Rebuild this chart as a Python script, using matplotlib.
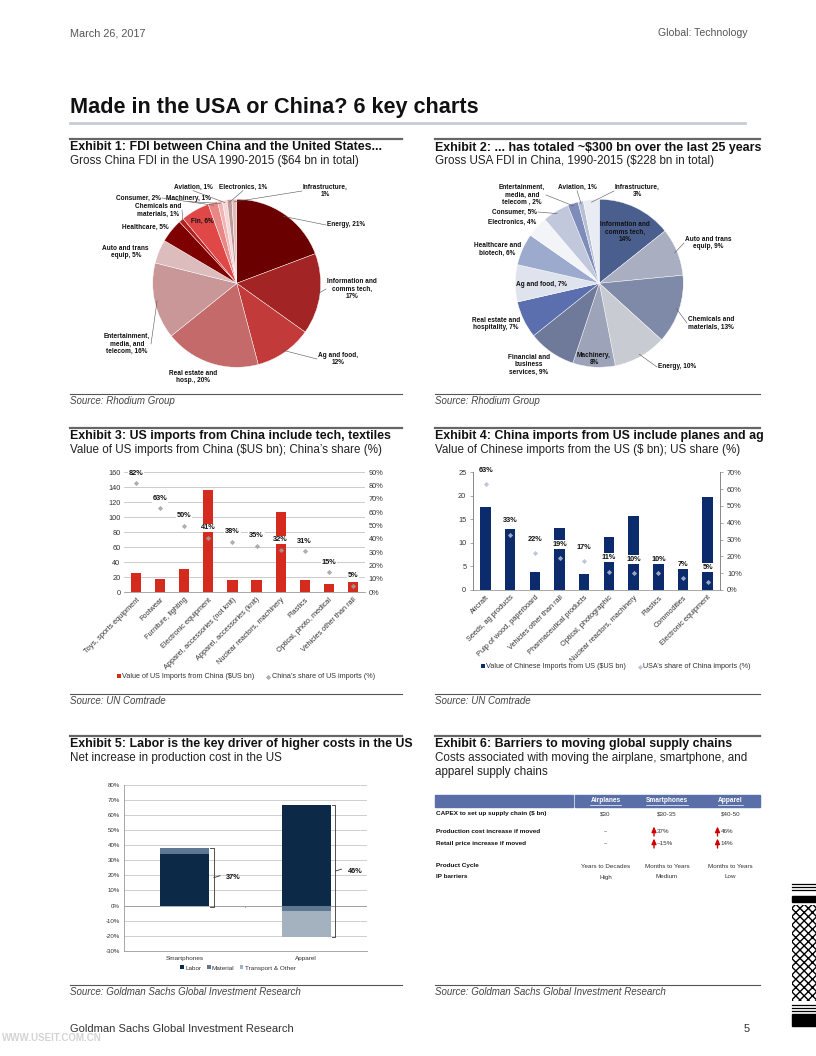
import numpy as np
import matplotlib
matplotlib.use('Agg')
import matplotlib.pyplot as plt
from matplotlib import font_manager
from matplotlib.patches import Rectangle
from matplotlib.ticker import FuncFormatter

W, H = 816, 1056

installed = {f.name for f in font_manager.fontManager.ttflist}
NARROW = 'Liberation Sans Narrow' if 'Liberation Sans Narrow' in installed else 'Liberation Sans'
plt.rcParams['font.family'] = ['Liberation Sans', 'DejaVu Sans']
plt.rcParams['text.parse_math'] = False

# ---------------- data ----------------
# Exhibit 1: Gross China FDI in the USA, clockwise from 12 o'clock
ex1_names = ['Energy, ', 'Information and\ncomms tech,\n', 'Ag and food,\n', 'Real estate and\nhosp., ',
             'Entertainment,\nmedia, and\ntelecom, ', 'Auto and trans\nequip, ', 'Healthcare, ',
             'Chemicals and\nmaterials, ', 'Fin, ', 'Consumer, ', 'Machinery, ', 'Aviation, ',
             'Electronics, ', 'Infrastructure,\n']
ex1_vals = [21, 17, 12, 20, 16, 5, 5, 1, 6, 2, 1, 1, 1, 1]

# Exhibit 2: Gross USA FDI in China, clockwise from 12 o'clock
ex2_names = ['Information and\ncomms tech,\n', 'Auto and trans\nequip, ', 'Chemicals and\nmaterials, ',
             'Energy, ', 'Machinery,\n', 'Financial and\nbusiness\nservices, ', 'Real estate and\nhospitality, ',
             'Ag and food, ', 'Healthcare and\nbiotech, ', 'Electronics, ', 'Consumer, ',
             'Entertainment,\nmedia, and\ntelecom , ', 'Aviation, ', 'Infrastructure,\n']
ex2_vals = [14, 9, 13, 10, 8, 9, 7, 7, 6, 4, 5, 2, 1, 3]

# Exhibit 3: US imports from China
ex3_cats = ['Toys, sports equipment', 'Footwear', 'Furniture, lighting', 'Electronic equipment',
            'Apparel, accessories (not knit)', 'Apparel, accessories (knit)', 'Nuclear reactors, machinery',
            'Plastics', 'Optical, photo, medical', 'Vehicles other than rail']
ex3_vals = [26, 18, 31, 136, 16, 16.5, 107, 16, 11.5, 13.5]
ex3_share = [82, 63, 50, 41, 38, 35, 32, 31, 15, 5]

# Exhibit 4: China imports from US
ex4_cats = ['Aircraft', 'Seeds, ag products', 'Pulp of wood, paperboard', 'Vehicles other than rail',
            'Pharmaceutical products', 'Optical, photographic', 'Nuclear reactors, machinery',
            'Plastics', 'Commodities', 'Electronic equipment']
ex4_vals = [17.6, 13.0, 3.9, 13.2, 3.3, 11.3, 15.8, 6.3, 5.8, 19.8]
ex4_share = [63, 33, 22, 19, 17, 11, 10, 10, 7, 5]

# Exhibit 5: net increase in production cost in the US
ex5_cats = ['Smartphones', 'Apparel']
ex5_labor = [34.5, 66.5]
ex5_material = [3.8, -3.8]
ex5_transport = [-1.2, -16.9]

# Exhibit 6: barriers table
ex6_cols = ['Airplanes', 'Smartphones', 'Apparel']
ex6_rows = ['CAPEX to set up supply chain ($ bn)', 'Production cost increase if moved',
            'Retail price increase if moved', 'Product Cycle', 'IP barriers']
ex6_cells = [['$30', '$30-35', '$40-50'],
             ['--', '37%', '46%'],
             ['--', '~15%', '14%'],
             ['Years to Decades', 'Months to Years', 'Months to Years'],
             ['High', 'Medium', 'Low']]
ex6_up = [[False, False, False], [False, True, True], [False, True, True],
          [False, False, False], [False, False, False]]

# ---------------- styles ----------------
ex1_colors = ['#6b0000', '#a32424', '#c23a3a', '#c46a6a', '#c99797', '#dcbcbc', '#7e0000',
              '#b31f1f', '#e04848', '#e98787', '#f1b3b3', '#f8d6d6', '#bb9a9a', '#e6b9b9']
ex2_colors = ['#4b5f8e', '#a9afc1', '#7f8aa8', '#c9cbd2', '#9da4b9', '#6f7a9b', '#5b6fae',
              '#dfe3ee', '#9caacd', '#f3f4f8', '#c1c8dc', '#7d8cb8', '#b6bfd6', '#e9ecf3']
# label layout: x, y, alignment, leader line
ex1_lab = [(327, 225, 'left', True), (327, 289, 'left', True), (318, 359, 'left', True),
           (193, 377, 'center', False), (150, 344, 'right', True), (149, 252, 'right', False),
           (169, 227, 'right', False), (181, 210, 'right', True), (202, 221, 'center', False),
           (161, 198, 'right', True), (188, 198, 'center', True), (193, 187, 'center', True),
           (243, 187, 'center', True), (303, 191, 'left', True)]
ex2_lab = [(625, 232, 'center', False), (685, 243, 'left', True), (688, 323, 'left', True),
           (658, 367, 'left', True), (594, 359, 'center', False), (529, 365, 'center', False),
           (520, 324, 'right', False), (542, 284, 'center', False), (521, 249, 'right', False),
           (536, 222, 'right', False), (537, 212, 'right', True), (545, 195, 'right', True),
           (577, 187, 'center', True), (615, 191, 'left', True)]

RED = '#d52b1e'
NAVY = '#0b2b6c'
TXT = '#222222'
TICK = '#333333'

fig = plt.figure(figsize=(W / 100, H / 100), dpi=100)
page = fig.add_axes([0, 0, 1, 1], zorder=10)
page.set_xlim(0, W)
page.set_ylim(H, 0)
page.axis('off')


def box(x0, y0, x1, y1):
    return [x0 / W, 1 - y1 / H, (x1 - x0) / W, (y1 - y0) / H]


def txt(x, y, s, size, **kw):
    kw.setdefault('va', 'center')
    kw.setdefault('color', TXT)
    return page.text(x, y, s, fontsize=size, **kw)


def pct(v, p):
    return f'{v:.0f}%'


# ---------------- page furniture ----------------
txt(70, 33, 'March 26, 2017', 7.8, family=NARROW, color='#555555')
txt(748, 33, 'Global: Technology', 7.6, family=NARROW, color='#555555', ha='right')
txt(70, 108, 'Made in the USA or China? 6 key charts', 15.6, family=NARROW, weight='bold', color='#111111')
page.plot([70, 745], [123, 123], color='#c7ccd6', lw=2)

heads = [(70, 139, 'Exhibit 1: FDI between China and the United States...',
          'Gross China FDI in the USA 1990-2015 ($64 bn in total)', 394, 'Source: Rhodium Group'),
         (435, 139, 'Exhibit 2: ... has totaled ~$300 bn over the last 25 years',
          'Gross USA FDI in China, 1990-2015 ($228 bn in total)', 394, 'Source: Rhodium Group'),
         (70, 428, 'Exhibit 3: US imports from China include tech, textiles',
          'Value of US imports from China ($US bn); China\u2019s share (%)', 694, 'Source: UN Comtrade'),
         (435, 428, 'Exhibit 4: China imports from US include planes and ag',
          'Value of Chinese imports from the US ($ bn); US share (%)', 694, 'Source: UN Comtrade'),
         (70, 736, 'Exhibit 5: Labor is the key driver of higher costs in the US',
          'Net increase in production cost in the US', 985, 'Source: Goldman Sachs Global Investment Research'),
         (435, 736, 'Exhibit 6: Barriers to moving global supply chains',
          'Costs associated with moving the airplane, smartphone, and\napparel supply chains', 985,
          'Source: Goldman Sachs Global Investment Research')]
for x0, yl, title, sub, ys, src in heads:
    x1 = 402 if x0 < 400 else 760
    page.plot([x0, x1], [yl, yl], color='#666666', lw=1.6)
    txt(x0, yl + 8.5, title, 8.9, family=NARROW, weight='bold', color='#111111')
    txt(x0, yl + 16, sub, 8.4, va='top', color='#222222', linespacing=1.25)
    page.plot([x0, x1], [ys, ys], color='#555555', lw=0.8)
    txt(x0, ys + 7, src, 7, family=NARROW, style='italic', color='#444444')

txt(70, 1029, 'Goldman Sachs Global Investment Research', 8, family=NARROW, color='#333333')
txt(750, 1029, '5', 8, family=NARROW, color='#333333', ha='right')
txt(2, 1038, 'WWW.USEIT.COM.CN', 7, color='#d4d4d4', weight='bold')

# decoration on the right edge
for yy in (884, 887, 890, 1005, 1008, 1011):
    page.plot([792, 816], [yy, yy], color='black', lw=0.9)
page.add_patch(Rectangle((792, 896), 24, 6, color='black'))
page.add_patch(Rectangle((792, 1014), 24, 12, color='black'))
page.add_patch(Rectangle((792, 905), 24, 96, facecolor='white', edgecolor='black', hatch='xxxx', lw=0))


# ---------------- pies ----------------
def draw_pie(vals, names, cols, layout, cx, cy, r):
    ax = fig.add_axes(box(cx - r, cy - r, cx + r, cy + r))
    wedges, _ = ax.pie(vals, colors=cols, startangle=90, counterclock=False, radius=1,
                       wedgeprops=dict(linewidth=0.3, edgecolor='white'))
    ax.set_xlim(-1, 1)
    ax.set_ylim(-1, 1)
    ax.axis('off')
    for w, name, v, (lx, ly, ha, lead) in zip(wedges, names, vals, layout):
        s = f'{name}{v}%'
        txt(lx, ly, s, 4.7, ha=ha, weight='bold', multialignment='center', linespacing=1.15, color='#111111')
        if lead:
            a = np.deg2rad((w.theta1 + w.theta2) / 2)
            px, py = cx + 0.97 * r * np.cos(a), cy - 0.97 * r * np.sin(a)
            n = s.count('\n') + 1
            if ha == 'left':
                ex, ey = lx - 1, ly
            elif ha == 'right':
                ex, ey = lx + 1, ly
            else:
                ex, ey = lx, ly + n * 3.6
            page.plot([ex, px], [ey, py], color='#555555', lw=0.4)


draw_pie(ex1_vals, ex1_names, ex1_colors, ex1_lab, 236.7, 283.3, 84)
draw_pie(ex2_vals, ex2_names, ex2_colors, ex2_lab, 599.3, 283.3, 84)


# ---------------- exhibits 3 and 4 ----------------
def combo(rect, cats, vals, share, ymax, ystep, smax, bar_col, mk_col, grid, lab_off, leg_xy, leg_labels):
    ax = fig.add_axes(box(*rect))
    xs = np.arange(len(cats))
    bars = ax.bar(xs, vals, width=0.42, color=bar_col, zorder=2)
    ax.set_xlim(-0.5, len(cats) - 0.5)
    ax.set_ylim(0, ymax)
    ax.set_yticks(np.arange(0, ymax + 0.1, ystep))
    ax.set_xticks(xs)
    ax.set_xticklabels(cats, rotation=45, ha='right', rotation_mode='anchor', fontsize=5.3, color=TICK)
    ax.tick_params(axis='x', length=0, pad=3)
    ax.spines['top'].set_visible(False)
    ax.spines['bottom'].set_color('#999999')
    ax.spines['bottom'].set_linewidth(0.6)
    tw = ax.twinx()
    tw.set_ylim(0, smax)
    tw.set_yticks(np.arange(0, smax + 0.1, 10))
    tw.yaxis.set_major_formatter(FuncFormatter(pct))
    tw.spines['top'].set_visible(False)
    tw.spines['bottom'].set_visible(False)
    if grid:
        ax.yaxis.grid(True, color='#c4c4c4', lw=0.6)
        ax.set_axisbelow(True)
        for a in (ax, tw):
            a.spines['left'].set_visible(False)
            a.spines['right'].set_visible(False)
        ax.tick_params(axis='y', length=0, pad=2.5, labelsize=5.3, labelcolor=TICK)
        tw.tick_params(axis='y', length=0, pad=2.5, labelsize=5.3, labelcolor=TICK)
    else:
        for a in (ax, tw):
            a.spines['left'].set_color('#888888')
            a.spines['right'].set_color('#888888')
            a.spines['left'].set_linewidth(0.6)
            a.spines['right'].set_linewidth(0.6)
        ax.tick_params(axis='y', length=2, width=0.5, color='#888888', pad=3, labelsize=5.3, labelcolor=TICK)
        tw.tick_params(axis='y', length=2, width=0.5, color='#888888', pad=3, labelsize=5.3, labelcolor=TICK)
    sc = tw.scatter(xs, share, marker='D', s=7, color=mk_col, alpha=0.85, zorder=3, linewidths=0)
    for xi, v in zip(xs, share):
        tw.annotate(f'{v}%', (xi, v), xytext=(0, lab_off), textcoords='offset points', ha='center',
                    va='center', fontsize=5.3, weight='bold', color='#111111',
                    bbox=dict(boxstyle='square,pad=0.12', fc='white', ec='none'))
    ax.legend([bars, sc], leg_labels, loc='center left', bbox_to_anchor=(leg_xy[0] / W, 1 - leg_xy[1] / H),
              bbox_transform=fig.transFigure, frameon=False, fontsize=5.2, ncol=2, handlelength=0.6,
              handleheight=0.6, handletextpad=0.2, columnspacing=1.6, labelcolor=TICK)
    return ax


combo((124, 472.3, 365, 592.3), ex3_cats, ex3_vals, ex3_share, 160, 20, 90, RED, '#a0a0a0', True, 7,
      (110, 677), ['Value of US Imports from China ($US bn)', 'China\u2019s share of US imports (%)'])
combo((473.3, 472.3, 720, 590), ex4_cats, ex4_vals, ex4_share, 25, 5, 70, NAVY, '#b4bed4', False, 10,
      (474, 667), ['Value of Chinese Imports from US ($US bn)', 'USA\u2019s share of China imports (%)'])

# ---------------- exhibit 5 ----------------
ax5 = fig.add_axes(box(124, 785, 367, 950.7))
xs = np.arange(len(ex5_cats))
pos = np.zeros(len(xs))
neg = np.zeros(len(xs))
handles = []
for series, col, lab in [(ex5_labor, '#0c2a47', 'Labor'), (ex5_material, '#5f7891', 'Material'),
                         (ex5_transport, '#a4b2c0', 'Transport & Other')]:
    v = np.array(series)
    base = np.where(v >= 0, pos, neg)
    h = ax5.bar(xs, v, bottom=base, width=0.4, color=col, zorder=2, label=lab)
    handles.append(h)
    pos = pos + np.clip(v, 0, None)
    neg = neg + np.clip(v, None, 0)
ax5.set_xlim(-0.5, 1.5)
ax5.set_ylim(-30, 80)
ax5.set_yticks(np.arange(-30, 81, 10))
ax5.yaxis.set_major_formatter(FuncFormatter(pct))
ax5.yaxis.grid(True, color='#c8c8c8', lw=0.6)
ax5.set_axisbelow(True)
for s in ('top', 'right'):
    ax5.spines[s].set_visible(False)
ax5.spines['left'].set_color('#999999')
ax5.spines['left'].set_linewidth(0.6)
ax5.spines['bottom'].set_color('#999999')
ax5.spines['bottom'].set_linewidth(0.6)
ax5.axhline(0, color='#999999', lw=0.6, zorder=1)
ax5.plot([0.5, 0.5], [0, -1.3], color='#999999', lw=0.6)
ax5.tick_params(axis='y', length=0, pad=3, labelsize=4.4, labelcolor=TICK)
ax5.set_xticks(xs)
ax5.set_xticklabels(ex5_cats, fontsize=4.6, color=TICK)
ax5.tick_params(axis='x', length=0, pad=4)
for xi, top, bot in zip(xs, pos, neg):
    bx = xi + 0.24
    ax5.plot([bx - 0.03, bx, bx, bx - 0.03], [top, top, bot, bot], color='#333333', lw=0.6)
    mid = (top + bot) / 2
    ax5.plot([bx, bx + 0.05], [mid, mid + 1.2], color='#333333', lw=0.6)
    ax5.text(bx + 0.1, mid, f'{top + bot:.0f}%', fontsize=5.3, weight='bold', va='center', color='#111111')
ax5.legend(handles, ['Labor', 'Material', 'Transport & Other'], loc='center',
           bbox_to_anchor=(238 / W, 1 - 968 / H), bbox_transform=fig.transFigure, frameon=False,
           fontsize=4.6, ncol=3, handlelength=0.6, handleheight=0.6, handletextpad=0.2,
           columnspacing=0.8, labelcolor=TICK)

# ---------------- exhibit 6 ----------------
HDR = '#5a6ea8'
page.add_patch(Rectangle((435, 795), 138, 12, color=HDR))
page.add_patch(Rectangle((575, 795), 185, 12, color=HDR))
col_x = [605.5, 667, 730.5]
row_y = [814, 831.5, 843.5, 866, 877]
renderer = fig.canvas.get_renderer()
inv = page.transData.inverted()
for cx, name in zip(col_x, ex6_cols):
    t = txt(cx, 801, name, 4.7, ha='center', weight='bold', color='white')
    bb = t.get_window_extent(renderer)
    (ux0, uy0), (ux1, uy1) = inv.transform([[bb.x0, bb.y0], [bb.x1, bb.y1]])
    page.plot([ux0, ux1], [uy0 + 0.3, uy0 + 0.3], color='white', lw=0.5)
for ry, rname, cells, ups in zip(row_y, ex6_rows, ex6_cells, ex6_up):
    txt(436, ry, rname, 4.6, weight='bold', color='#111111')
    for cx, c, up in zip(col_x, cells, ups):
        if up:
            page.annotate('', xy=(cx - 13, ry - 5), xytext=(cx - 13, ry + 4.5),
                          arrowprops=dict(arrowstyle='-|>,head_width=0.2,head_length=0.45',
                                          color='#d00000', lw=1.0, mutation_scale=7,
                                          shrinkA=0, shrinkB=0))
            txt(cx - 10, ry, c, 4.5, color='#333333')
        else:
            txt(cx, ry, c, 4.5, ha='center', color='#333333')

fig.savefig('out.png', dpi=100)
